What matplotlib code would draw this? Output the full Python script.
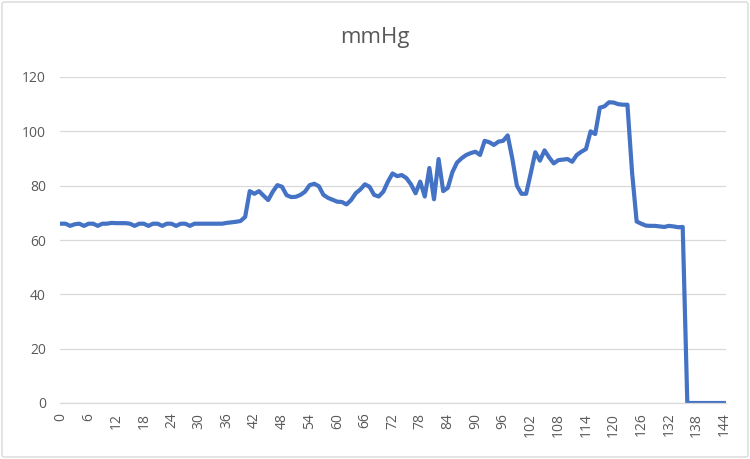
import numpy as np
import matplotlib
matplotlib.use("Agg")
import matplotlib.pyplot as plt
from matplotlib.patches import FancyBboxPatch

# blood pressure readings, one per sample 0..144
mmhg = [
    66, 66, 65.2, 65.8, 66, 65.2, 66, 66, 65.2, 66,            # 0-9
    66, 66.3, 66.2, 66.2, 66.2, 66, 65.2, 66, 66, 65.2,        # 10-19
    66, 66, 65.2, 66, 66, 65.2, 66, 66, 65.2, 66,              # 20-29
    66, 66, 66, 66, 66, 66, 66.3, 66.5, 66.7, 67,              # 30-39
    68.5, 78, 77, 78, 76.3, 74.7, 77.8, 80.2, 79.6, 76.5,      # 40-49
    75.8, 75.9, 76.6, 77.8, 80.2, 80.7, 79.8, 76.6, 75.5, 74.8,  # 50-59
    74.1, 74, 73.1, 74.7, 77.2, 78.6, 80.5, 79.6, 76.6, 76,    # 60-69
    77.8, 81.5, 84.5, 83.5, 83.9, 82.8, 80.5, 77.2, 81.5, 76,  # 70-79
    86.5, 75, 89.8, 78, 79.2, 85, 88.5, 90.1, 91.3, 92,        # 80-89
    92.5, 91.3, 96.5, 96, 95, 96.2, 96.5, 98.5, 90, 80,        # 90-99
    77, 77, 84.5, 92.3, 89.2, 93, 90.4, 88.2, 89.4, 89.6,      # 100-109
    89.8, 88.8, 91.3, 92.5, 93.5, 100, 99, 108.7, 109.2, 110.7,  # 110-119
    110.6, 110, 109.8, 109.8, 85, 66.8, 66, 65.3, 65.2, 65.2,  # 120-129
    65, 64.8, 65.2, 65, 64.7, 64.8, 0, 0, 0, 0,                # 130-139
    0, 0, 0, 0, 0,                                             # 140-144
]
samples = list(range(len(mmhg)))
x_ticks = list(range(0, 145, 6))
y_ticks = [0, 20, 40, 60, 80, 100, 120]

plt.rcParams['font.family'] = ['Open Sans', 'DejaVu Sans']

fig = plt.figure(figsize=(7.5, 4.59), dpi=100)
ax = fig.add_axes([60 / 750, 1 - 403 / 459, 666 / 750, 326 / 459])

ax.plot(samples, mmhg, color='#4472C4', linewidth=3, solid_joinstyle='round')

ax.set_xlim(-0.2, 144.4)
ax.set_ylim(0, 120)
ax.set_xticks(x_ticks)
ax.set_xticklabels([str(t) for t in x_ticks], rotation=90)
ax.set_yticks(y_ticks)
ax.grid(axis='y', color='#d9d9d9', linewidth=0.9)
ax.set_axisbelow(True)
for side in ['top', 'right', 'left']:
    ax.spines[side].set_visible(False)
ax.spines['bottom'].set_color('#d9d9d9')
ax.spines['bottom'].set_linewidth(0.9)
ax.tick_params(length=0, colors='#595959', labelsize=10)
ax.tick_params(axis='x', pad=7)
ax.tick_params(axis='y', pad=10)

fig.text(0.5, 1 - 38 / 459, 'mmHg', ha='center', va='center',
         fontsize=16, color='#595959')

border = FancyBboxPatch((2 / 750, 2 / 459), 746 / 750, 455 / 459,
                        boxstyle='round,pad=0,rounding_size=0.004',
                        transform=fig.transFigure, fill=False,
                        edgecolor='#d9d9d9', linewidth=1)
fig.patches.append(border)

fig.savefig('out.png', dpi=100)
